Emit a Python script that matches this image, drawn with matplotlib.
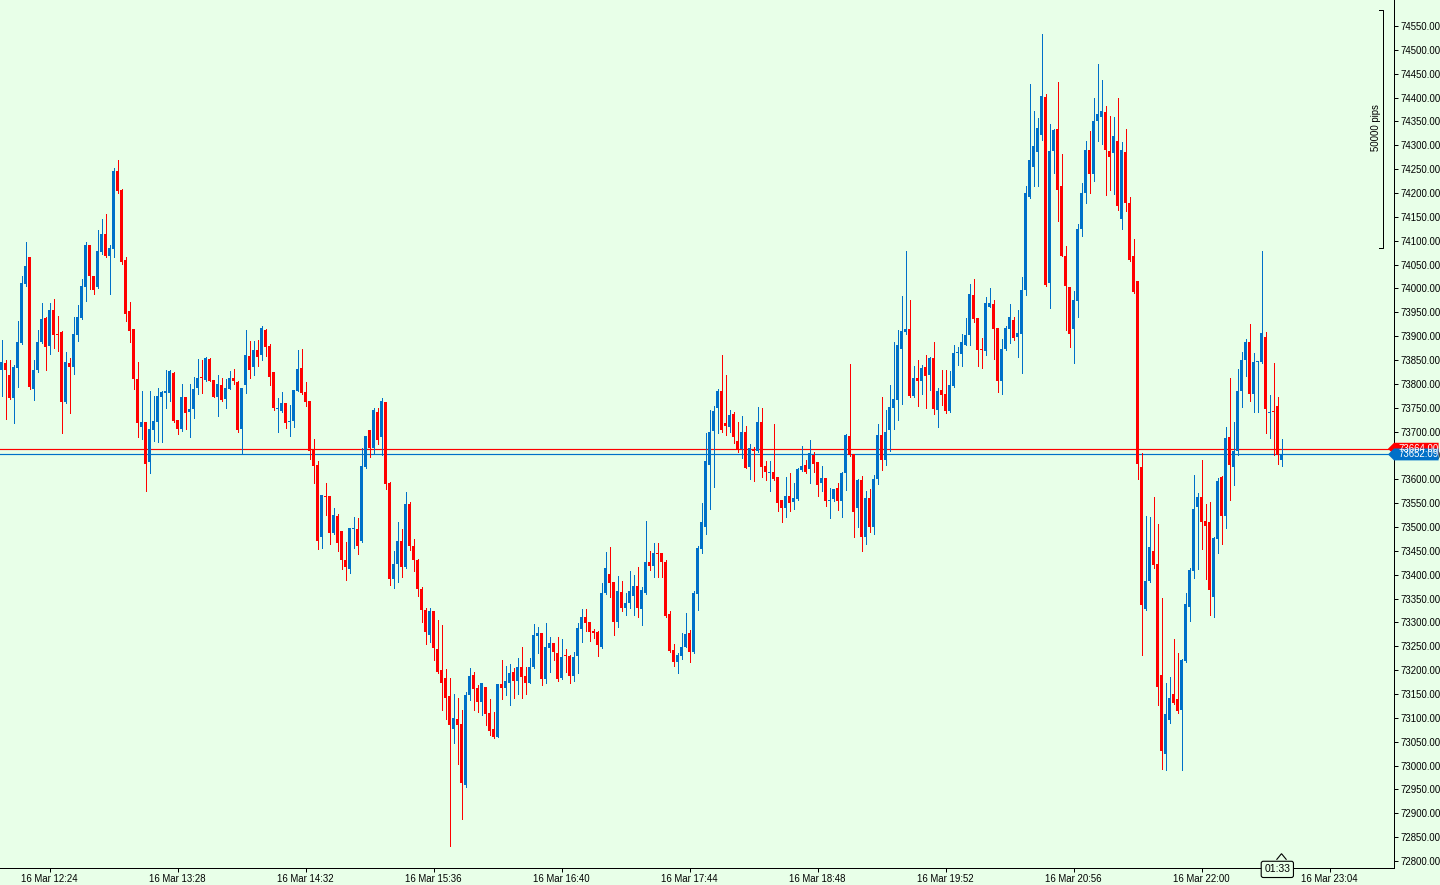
import matplotlib
matplotlib.use("Agg")
import matplotlib.pyplot as plt
from matplotlib.patches import Polygon
from matplotlib.transforms import blended_transform_factory
import numpy as np

# 2-minute candles starting 16 Mar 12:00
start_minute = 12 * 60
interval = 2

opens = [
    73830, 73844, 73819, 73770, 73833, 73886, 74009, 74065, 73790, 73828,
    73887, 73939, 73880, 73954, 73904, 73908, 73761, 73844, 73835, 73903,
    73938, 74004, 74090, 74027, 74002, 74076, 74114, 74067, 74082, 74246,
    74206, 74059, 73952, 73916, 73811, 73709, 73720, 73636, 73703, 73720,
    73773, 73780, 73781, 73823, 73724, 73705, 73772, 73740, 73747, 73791,
    73815, 73808, 73852, 73808, 73772, 73797, 73768, 73789, 73812, 73804,
    73705, 73797, 73858, 73835, 73871, 73860, 73913, 73879, 73825, 73747,
    73743, 73760, 73720, 73722, 73785, 73833, 73783, 73764, 73663, 73629,
    73480, 73566, 73564, 73487, 73522, 73491, 73430, 73413, 73496, 73495,
    73470, 73625, 73703, 73665, 73741, 73688, 73762, 73592, 73392, 73422,
    73470, 73417, 73548, 73461, 73430, 73370, 73325, 73273, 73323, 73244,
    73201, 73183, 73145, 73076, 73097, 73088, 72960, 73147, 73189, 73162,
    73134, 73164, 73111, 73076, 73059, 73170, 73162, 73174, 73197, 73178,
    73206, 73187, 73174, 73206, 73271, 73277, 73181, 73246, 73256, 73235,
    73183, 73232, 73229, 73187, 73229, 73286, 73311, 73300, 73283, 73279,
    73248, 73361, 73401, 73384, 73300, 73363, 73330, 73340, 73355, 73376,
    73328, 73361, 73426, 73419, 73445, 73445, 73426, 73317, 73243, 73218,
    73229, 73249, 73277, 73237, 73359, 73453, 73501, 73630, 73701, 73749,
    73785, 73717, 73709, 73736, 73680, 73663, 73699, 73625, 73662, 73659,
    73720, 73627, 73613, 73615, 73604, 73556, 73539, 73566, 73552, 73558,
    73619, 73629, 73621, 73650, 73636, 73592, 73602, 73555, 73558, 73581,
    73554, 73613, 73690, 73653, 73539, 73598, 73480, 73560, 73500, 73600,
    73693, 73640, 73704, 73750, 73767, 73874, 73908, 73914, 73775, 73813,
    73805, 73836, 73819, 73855, 73746, 73788, 73779, 73744, 73796, 73865,
    73863, 73882, 73903, 73987, 73937, 73872, 73868, 73962, 73968, 73918,
    73807, 73872, 73916, 73933, 73899, 73905, 73996, 74191, 74254, 74285,
    74321, 74401, 74012, 74288, 74334, 74214, 74067, 74002, 73916, 73973,
    74124, 74200, 74290, 74240, 74350, 74359, 74370, 74288, 74284, 74309,
    74145, 74286, 74179, 74067, 74015, 73625, 73329, 73386, 73449, 73422,
    73189, 73025, 73096, 73149, 73140, 73117, 73220, 73333, 73407, 73541,
    73562, 73512, 73510, 73354, 73474, 73604, 73524, 73688, 73625, 73659,
    73786, 73849, 73887, 73779, 73845, 73845, 73899, 73738, 73744, 73754,
    73641,
]
highs = [
    73892, 73850, 73850, 73840, 73932, 74027, 74097, 74066, 73851, 73912,
    73969, 73940, 73969, 73977, 73943, 73910, 73866, 73854, 73940, 73966,
    74020, 74097, 74090, 74027, 74122, 74145, 74156, 74090, 74252, 74269,
    74208, 74065, 73971, 73916, 73845, 73785, 73720, 73785, 73775, 73791,
    73785, 73829, 73829, 73825, 73724, 73800, 73772, 73800, 73814, 73852,
    73850, 73856, 73854, 73808, 73819, 73812, 73810, 73827, 73831, 73806,
    73792, 73913, 73890, 73890, 73892, 73921, 73915, 73884, 73825, 73770,
    73783, 73760, 73756, 73788, 73871, 73873, 73804, 73764, 73684, 73638,
    73568, 73592, 73566, 73539, 73527, 73492, 73468, 73498, 73520, 73518,
    73665, 73690, 73703, 73749, 73749, 73770, 73762, 73594, 73449, 73510,
    73495, 73573, 73552, 73474, 73432, 73375, 73330, 73330, 73323, 73306,
    73294, 73202, 73183, 73149, 73141, 73116, 73155, 73204, 73197, 73168,
    73174, 73164, 73139, 73113, 73170, 73221, 73208, 73212, 73204, 73225,
    73248, 73206, 73225, 73296, 73290, 73277, 73298, 73269, 73256, 73269,
    73265, 73244, 73232, 73239, 73298, 73328, 73328, 73300, 73286, 73281,
    73382, 73447, 73458, 73384, 73397, 73386, 73361, 73407, 73399, 73416,
    73374, 73512, 73449, 73466, 73466, 73445, 73430, 73323, 73254, 73235,
    73277, 73319, 73285, 73365, 73461, 73550, 73697, 73745, 73753, 73789,
    73861, 73818, 73745, 73741, 73720, 73732, 73711, 73674, 73667, 73751,
    73749, 73638, 73638, 73716, 73604, 73556, 73604, 73613, 73592, 73623,
    73669, 73640, 73682, 73657, 73636, 73627, 73602, 73581, 73579, 73592,
    73615, 73695, 73842, 73653, 73600, 73606, 73575, 73580, 73610, 73715,
    73773, 73746, 73798, 73888, 73912, 73985, 74078, 73975, 73838, 73851,
    73840, 73861, 73857, 73888, 73792, 73830, 73828, 73826, 73882, 73878,
    73905, 73939, 74010, 74019, 73937, 73897, 73981, 74000, 73975, 73918,
    73893, 73922, 73968, 73941, 73954, 74023, 74214, 74428, 74372, 74357,
    74533, 74407, 74344, 74334, 74432, 74281, 74088, 74004, 73994, 74135,
    74220, 74310, 74330, 74400, 74470, 74437, 74382, 74361, 74359, 74399,
    74307, 74334, 74191, 74103, 74015, 73655, 73522, 73520, 73562, 73506,
    73352, 73172, 73186, 73266, 73235, 73224, 73361, 73415, 73608, 73571,
    73640, 73548, 73552, 73478, 73602, 73606, 73709, 73813, 73720, 73832,
    73866, 73895, 73926, 73864, 73848, 74078, 73908, 73777, 73843, 73773,
    73685,
]
lows = [
    73775, 73727, 73768, 73718, 73793, 73884, 74005, 73790, 73767, 73824,
    73885, 73830, 73862, 73876, 73868, 73698, 73759, 73739, 73821, 73890,
    73936, 73973, 73998, 73988, 74000, 74073, 74065, 73988, 74065, 74200,
    74051, 73931, 73887, 73790, 73689, 73684, 73575, 73613, 73680, 73678,
    73678, 73749, 73764, 73720, 73695, 73701, 73705, 73688, 73728, 73779,
    73781, 73806, 73806, 73772, 73733, 73764, 73749, 73789, 73800, 73699,
    73655, 73781, 73812, 73818, 73837, 73850, 73858, 73797, 73745, 73699,
    73742, 73707, 73690, 73709, 73784, 73779, 73753, 73642, 73592, 73453,
    73457, 73525, 73464, 73485, 73449, 73411, 73388, 73403, 73455, 73443,
    73469, 73623, 73646, 73653, 73674, 73650, 73579, 73378, 73373, 73384,
    73396, 73415, 73451, 73407, 73355, 73300, 73255, 73260, 73221, 73195,
    73116, 73097, 72832, 73048, 73004, 72887, 72956, 73137, 73116, 73113,
    73105, 73086, 73065, 73057, 73059, 73139, 73147, 73126, 73141, 73149,
    73141, 73151, 73172, 73204, 73235, 73168, 73172, 73197, 73221, 73178,
    73181, 73197, 73174, 73178, 73195, 73260, 73283, 73262, 73267, 73229,
    73246, 73359, 73353, 73273, 73290, 73323, 73315, 73330, 73315, 73311,
    73294, 73359, 73410, 73396, 73396, 73396, 73312, 73237, 73209, 73193,
    73224, 73249, 73218, 73235, 73327, 73445, 73485, 73537, 73583, 73697,
    73699, 73692, 73699, 73676, 73657, 73644, 73623, 73600, 73596, 73657,
    73604, 73598, 73575, 73598, 73533, 73510, 73520, 73533, 73537, 73556,
    73617, 73613, 73592, 73615, 73566, 73575, 73543, 73518, 73554, 73535,
    73520, 73577, 73648, 73480, 73499, 73449, 73465, 73490, 73485, 73590,
    73620, 73630, 73660, 73706, 73725, 73758, 73905, 73773, 73773, 73754,
    73779, 73750, 73788, 73737, 73710, 73756, 73739, 73742, 73794, 73840,
    73838, 73882, 73882, 73930, 73838, 73834, 73861, 73962, 73853, 73782,
    73779, 73870, 73886, 73891, 73857, 73823, 73987, 74189, 74214, 74214,
    74311, 74005, 73958, 74241, 74141, 74067, 73912, 73878, 73844, 73940,
    74110, 74180, 74200, 74225, 74310, 74302, 74195, 74206, 74198, 74164,
    74124, 74162, 74057, 73990, 73601, 73231, 73327, 73384, 73415, 73126,
    72993, 72991, 73090, 73128, 73111, 72991, 73216, 73304, 73394, 73411,
    73453, 73392, 73315, 73312, 73445, 73464, 73497, 73556, 73587, 73650,
    73752, 73817, 73765, 73742, 73742, 73843, 73696, 73687, 73651, 73632,
    73628,
]
closes = [
    73845, 73829, 73770, 73835, 73888, 74011, 74046, 73794, 73828, 73887,
    73935, 73878, 73954, 73902, 73903, 73761, 73845, 73835, 73905, 73940,
    74006, 74090, 74025, 73996, 74078, 74114, 74067, 74084, 74246, 74204,
    74055, 73946, 73910, 73811, 73717, 73720, 73632, 73705, 73722, 73775,
    73783, 73785, 73827, 73722, 73705, 73772, 73739, 73748, 73789, 73812,
    73813, 73854, 73806, 73772, 73800, 73766, 73791, 73812, 73806, 73703,
    73791, 73860, 73829, 73871, 73856, 73917, 73877, 73814, 73749, 73748,
    73760, 73718, 73722, 73787, 73831, 73781, 73762, 73659, 73627, 73470,
    73567, 73563, 73487, 73525, 73466, 73430, 73417, 73497, 73497, 73461,
    73627, 73690, 73665, 73745, 73682, 73764, 73590, 73392, 73422, 73470,
    73417, 73548, 73461, 73430, 73370, 73325, 73280, 73323, 73246, 73197,
    73172, 73141, 73086, 73099, 73086, 72964, 73147, 73187, 73160, 73134,
    73172, 73109, 73073, 73059, 73170, 73162, 73178, 73195, 73178, 73206,
    73185, 73174, 73206, 73273, 73277, 73181, 73248, 73256, 73239, 73181,
    73227, 73230, 73187, 73227, 73288, 73311, 73298, 73279, 73277, 73252,
    73361, 73414, 73382, 73300, 73365, 73330, 73340, 73365, 73376, 73330,
    73368, 73426, 73418, 73445, 73444, 73426, 73314, 73241, 73218, 73231,
    73249, 73275, 73237, 73361, 73457, 73510, 73638, 73699, 73743, 73785,
    73703, 73711, 73734, 73688, 73661, 73699, 73623, 73665, 73660, 73720,
    73625, 73615, 73614, 73600, 73550, 73539, 73566, 73550, 73560, 73621,
    73627, 73615, 73655, 73632, 73587, 73602, 73554, 73556, 73579, 73554,
    73613, 73692, 73651, 73531, 73598, 73480, 73560, 73500, 73600, 73693,
    73640, 73700, 73752, 73769, 73882, 73910, 73916, 73775, 73813, 73805,
    73834, 73817, 73855, 73748, 73786, 73777, 73744, 73798, 73865, 73866,
    73888, 73903, 73989, 73935, 73870, 73870, 73970, 73970, 73916, 73807,
    73874, 73918, 73941, 73897, 73907, 73996, 74199, 74269, 74298, 74336,
    74403, 74008, 74288, 74332, 74206, 74069, 74006, 73905, 73975, 74124,
    74200, 74290, 74240, 74350, 74365, 74372, 74290, 74275, 74319, 74173,
    74290, 74179, 74059, 73992, 73631, 73336, 73386, 73459, 73420, 73165,
    73031, 73109, 73142, 73132, 73115, 73222, 73338, 73409, 73537, 73562,
    73510, 73503, 73367, 73476, 73596, 73524, 73686, 73630, 73659, 73786,
    73849, 73887, 73779, 73845, 73846, 73906, 73748, 73742, 73741, 73651,
    73652,
]

ask_price = 73664.00
bid_price = 73652.09
price_ticks = np.arange(72800, 74551, 50)
time_tick_minutes = [24, 88, 152, 216, 280, 344, 408, 472, 536, 600, 664]
scale_text = "50000 pips"
countdown = "01:33"

bg = "#E8FFE8"
bull = "#0070C8"
bear = "#FF0000"
font = "Liberation Sans"
px = 0.72  # one pixel in points at 100 dpi

o = np.array(opens, float)
h = np.array(highs, float)
l = np.array(lows, float)
c = np.array(closes, float)
t = np.arange(len(o)) * interval
cols = [bull if cc >= oo else bear for oo, cc in zip(o, c)]

fig = plt.figure(figsize=(14.4, 8.85), dpi=100, facecolor=bg)
ax = fig.add_axes([0, 17 / 885, 1394 / 1440, 868 / 885], facecolor=bg)

# ask / bid lines
ax.axhline(ask_price, color=bear, lw=0.85, zorder=1)
ax.axhline(bid_price, color=bull, lw=0.85, zorder=1)

ax.vlines(t, l, h, colors=cols, lw=px, zorder=2, antialiased=False)
body_h = np.maximum(np.abs(c - o), 2.2)
ax.bar(t, body_h, bottom=np.minimum(o, c), width=1.5, color=cols,
       linewidth=0, antialiased=False, zorder=3)

ax.set_xlim(-0.75, 696.25)
ax.set_ylim(72785.3, 74604.5)

for s in ["left", "top"]:
    ax.spines[s].set_visible(False)
for s in ["right", "bottom"]:
    ax.spines[s].set_color("black")
    ax.spines[s].set_linewidth(px)

ax.yaxis.tick_right()
ax.set_yticks(price_ticks)
ax.set_yticklabels([f"{p:.2f}" for p in price_ticks], fontsize=6.9, family=font)
ax.set_xticks(time_tick_minutes)
ax.set_xticklabels(
    [f"16 Mar {(start_minute + m) // 60:02d}:{(start_minute + m) % 60:02d}" for m in time_tick_minutes],
    fontsize=6.9, family=font)
ax.tick_params(axis="both", length=3, width=px, color="black", pad=1.5)

# price tags on the right scale (bid drawn over ask, as in the terminal)
tr = blended_transform_factory(ax.transAxes, ax.transData)
for price, col in [(ask_price, bear), (bid_price, bull)]:
    dh = 12.5
    poly = Polygon([(0.9957, price), (1.0, price - dh), (1.032, price - dh),
                    (1.032, price + dh), (1.0, price + dh)],
                   closed=True, transform=tr, facecolor=col, edgecolor="none",
                   clip_on=False, zorder=5)
    ax.add_patch(poly)
    ax.text(1.003, price, f"{price:.2f}", transform=tr, color="white",
            fontsize=6.9, family=font, va="center", ha="left",
            clip_on=False, zorder=6)

# scale bracket
fig.text(1376 / 1440, 1 - 128 / 885, scale_text, rotation=90, fontsize=6.9,
         family=font, ha="center", va="center")
fig.add_artist(plt.Line2D([1379 / 1440, 1383 / 1440, 1383 / 1440, 1379 / 1440],
                          [1 - 10 / 885, 1 - 10 / 885, 1 - 248 / 885, 1 - 248 / 885],
                          color="black", lw=px))

# countdown box under the last candle, with a small notch pointing at it
last_t = t[-1]
ax.annotate(countdown, xy=(last_t, 0), xycoords=("data", "axes fraction"),
            xytext=(-3, -1), textcoords="offset points", ha="center", va="center",
            fontsize=7.5, family=font,
            bbox=dict(boxstyle="round,pad=0.3,rounding_size=0.2", fc=bg, ec="black", lw=0.8),
            zorder=7, annotation_clip=False)
trx = blended_transform_factory(ax.transData, ax.transAxes)
notch = Polygon([(last_t - 2.5, 0.0095), (last_t, 0.0165), (last_t + 2.5, 0.0095)],
                closed=False, transform=trx, facecolor=bg, edgecolor="black",
                lw=0.8, clip_on=False, zorder=8)
ax.add_patch(notch)

fig.savefig("out.png", dpi=100, facecolor=bg)
